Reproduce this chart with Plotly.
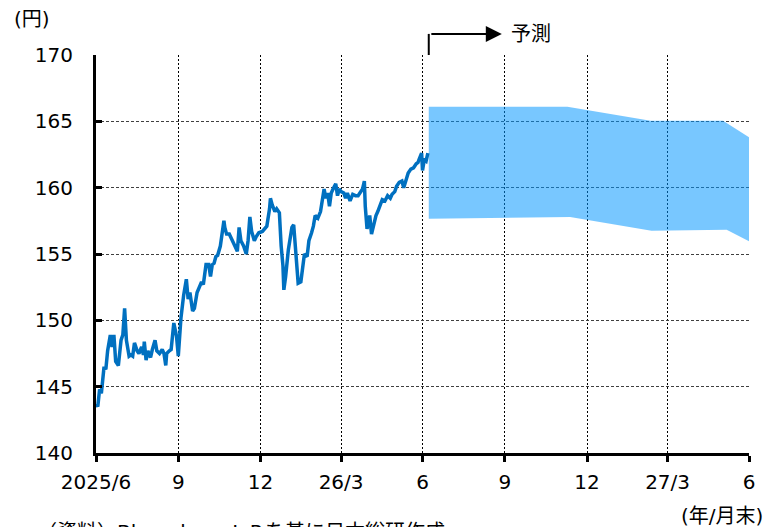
import plotly.graph_objects as go

dates = [
    "2025-06-30","2025-07-02","2025-07-04","2025-07-06","2025-07-09","2025-07-11","2025-07-13","2025-07-16",
    "2025-07-18","2025-07-20","2025-07-22","2025-07-25","2025-07-28","2025-07-30","2025-08-01","2025-08-03",
    "2025-08-06","2025-08-08","2025-08-10","2025-08-12","2025-08-15","2025-08-17","2025-08-20","2025-08-22",
    "2025-08-23","2025-08-25","2025-08-27","2025-08-30","2025-09-01","2025-09-04","2025-09-06","2025-09-09",
    "2025-09-12","2025-09-14","2025-09-16","2025-09-17","2025-09-20","2025-09-22","2025-09-25","2025-09-28",
    "2025-09-30","2025-10-03","2025-10-06","2025-10-09","2025-10-11","2025-10-13","2025-10-16","2025-10-18",
    "2025-10-21","2025-10-23","2025-10-26","2025-10-28","2025-10-31","2025-11-03","2025-11-05","2025-11-07",
    "2025-11-09","2025-11-11","2025-11-13","2025-11-16","2025-11-18","2025-11-20","2025-11-21","2025-11-23",
    "2025-11-26","2025-11-29","2025-12-02","2025-12-05","2025-12-07","2025-12-09","2025-12-12","2025-12-15",
    "2025-12-17","2025-12-19","2025-12-21","2025-12-24","2025-12-26","2025-12-29","2026-01-02","2026-01-04",
    "2026-01-07","2026-01-10","2026-01-11","2026-01-13","2026-01-16","2026-01-18","2026-01-21","2026-01-23",
    "2026-01-25","2026-01-26","2026-01-28","2026-01-31","2026-02-02","2026-02-04","2026-02-06","2026-02-08",
    "2026-02-10","2026-02-11","2026-02-14","2026-02-16","2026-02-18","2026-02-21","2026-02-23","2026-02-26",
    "2026-02-28","2026-03-02","2026-03-05","2026-03-08","2026-03-10","2026-03-12","2026-03-14","2026-03-16",
    "2026-03-18","2026-03-20","2026-03-22","2026-03-25","2026-03-27","2026-03-29","2026-03-31","2026-04-03",
    "2026-04-05","2026-04-07","2026-04-10","2026-04-13","2026-04-16","2026-04-19","2026-04-21","2026-04-24",
    "2026-04-26","2026-04-27","2026-04-29","2026-05-01","2026-05-02","2026-05-04","2026-05-06","2026-05-09",
    "2026-05-11","2026-05-14","2026-05-16","2026-05-19","2026-05-22","2026-05-25","2026-05-27","2026-05-30",
    "2026-06-01","2026-06-04","2026-06-07","2026-06-09","2026-06-11","2026-06-14","2026-06-17","2026-06-20",
    "2026-06-23","2026-06-25","2026-06-26","2026-06-29","2026-06-30","2026-07-02","2026-07-04","2026-07-06",
]
usdjpy = [
    143.7,143.5,144.8,144.5,146.5,146.3,147.7,148.9,
    148.0,148.9,146.9,146.6,148.5,148.9,150.9,148.5,
    147.3,147.4,147.3,148.3,147.7,147.5,148.0,147.4,
    148.4,147.0,147.7,147.2,147.8,148.5,147.7,147.5,
    147.8,147.5,146.6,147.5,147.7,147.8,149.8,148.8,
    147.3,150.2,151.9,153.1,151.6,152.1,150.7,150.9,
    152.1,152.4,152.9,152.7,154.2,154.2,153.3,154.2,
    154.3,154.8,154.9,155.6,156.7,157.5,157.0,156.5,
    156.5,156.1,155.7,155.2,157.0,156.0,155.6,155.0,
    156.0,157.8,156.7,156.0,156.3,156.6,156.7,156.9,
    157.1,158.4,159.2,158.7,158.2,158.4,158.1,155.6,
    154.1,152.3,153.3,155.3,156.0,157.0,157.2,155.6,
    153.8,152.8,152.9,154.1,155.0,154.8,156.0,156.6,
    157.1,157.9,157.7,158.2,159.1,159.9,159.2,159.6,
    158.6,159.6,159.9,160.3,159.4,159.9,159.7,159.6,
    159.2,159.6,159.0,159.5,159.4,159.4,159.6,159.9,
    160.5,158.6,156.9,157.4,157.9,156.5,157.1,157.9,
    158.2,158.7,159.1,159.0,159.4,159.2,159.5,159.7,
    160.1,160.4,160.5,160.0,160.5,161.1,161.4,161.5,
    161.8,161.9,162.1,162.6,161.3,162.1,162.0,162.6,
]

# ---- forecast range ----
band_top_dates = ["2026-07-07", "2026-12-09", "2027-03-12", "2027-06-01", "2027-06-30"]
band_top = [166.1, 166.1, 165.05, 165.05, 163.8]
band_bot_dates = ["2026-07-07", "2026-12-12", "2027-03-13", "2027-06-05", "2027-06-30"]
band_bot = [157.66, 157.78, 156.75, 156.83, 155.97]

tick_dates = ["2025-06-30", "2025-09-30", "2025-12-31", "2026-03-31", "2026-06-30",
              "2026-09-30", "2026-12-31", "2027-03-31", "2027-06-30"]
tick_labels = ["2025/6", "9", "12", "26/3", "6", "9", "12", "27/3", "6"]

FONT = "DejaVu Sans, Noto Sans CJK JP, sans-serif"

fig = go.Figure()
fig.add_trace(go.Scatter(
    x=band_top_dates + band_bot_dates[::-1],
    y=band_top + band_bot[::-1],
    fill="toself", fillcolor="rgba(0,150,255,0.53)",
    mode="lines", line=dict(width=0), hoverinfo="skip", showlegend=False,
))
fig.add_trace(go.Scatter(
    x=dates, y=usdjpy, mode="lines",
    line=dict(color="#0070C0", width=3.5), showlegend=False,
))

fig.update_layout(
    width=763, height=519,
    margin=dict(l=88, r=22, t=47, b=74),
    paper_bgcolor="white", plot_bgcolor="white",
    font=dict(family=FONT, size=20, color="black"),
    xaxis=dict(
        type="date", range=["2025-06-30", "2027-06-30"],
        tickmode="array", tickvals=tick_dates, ticktext=tick_labels,
        showgrid=True, gridcolor="black", griddash="2px,2px", gridwidth=1,
        showline=True, linecolor="black", linewidth=2.5,
        ticks="outside", ticklen=6, tickwidth=2.5, tickcolor="black",
        ticklabelstandoff=3, zeroline=False,
    ),
    yaxis=dict(
        range=[140, 170], dtick=5, tick0=140,
        showgrid=True, gridcolor="#404040", griddash="3px,2px", gridwidth=1,
        showline=True, linecolor="black", linewidth=3,
        ticks="inside", ticklen=6, tickwidth=2.5, tickcolor="black",
        ticklabelstandoff=16, zeroline=False,
    ),
    shapes=[
        dict(type="line", xref="x", yref="paper", x0="2026-07-07", x1="2026-07-07",
             y0=1.0, y1=1.053, line=dict(color="black", width=2)),
    ],
    annotations=[
        dict(xref="paper", yref="paper", x=-0.128, y=1.09, text="(円)", showarrow=False,
             xanchor="left", yanchor="middle", font=dict(size=20)),
        dict(xref="paper", yref="paper", x=1.024, y=-0.158, text="(年/月末)", showarrow=False,
             xanchor="right", yanchor="middle", font=dict(size=20)),
        dict(xref="paper", yref="paper", x=-0.094, y=-0.198, text="（資料）Bloomberg L.P.を基に日本総研作成",
             showarrow=False, xanchor="left", yanchor="middle", font=dict(size=20)),
        dict(xref="paper", yref="paper", x=0.6215, y=1.053, ax=-72, ay=0, axref="pixel", ayref="pixel",
             text="", showarrow=True, arrowhead=2, arrowsize=1.6, arrowwidth=2, arrowcolor="black"),
        dict(xref="paper", yref="paper", x=0.633, y=1.053, text="予測", showarrow=False,
             xanchor="left", yanchor="middle", font=dict(size=20)),
    ],
)

fig.write_html("out.html")
